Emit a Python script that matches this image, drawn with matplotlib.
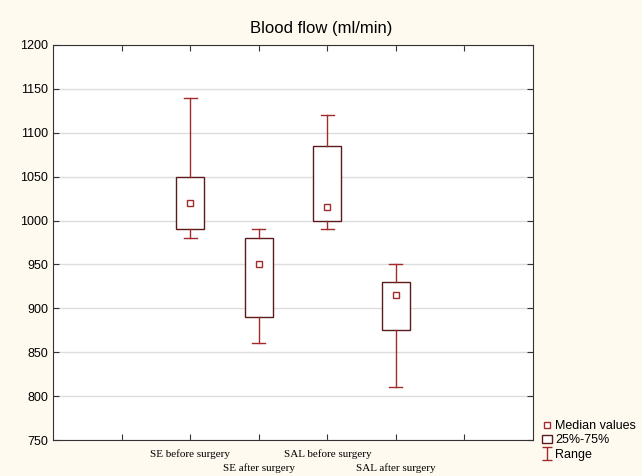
import numpy as np
import matplotlib.pyplot as plt
from matplotlib.patches import Patch
from matplotlib.lines import Line2D

# Blood flow box plot (min / 25% / median / 75% / max)
groups = ["SE before surgery", "SE after surgery", "SAL before surgery", "SAL after surgery"]
mins = [980, 860, 990, 810]
q1s = [990, 890, 1000, 875]
medians = [1020, 950, 1015, 915]
q3s = [1050, 980, 1085, 930]
maxs = [1140, 990, 1120, 950]

box_col = "#5c1a1a"
range_col = "#a32a2a"

fig = plt.figure(figsize=(6.42, 4.76), dpi=100, facecolor="#fffaf0")
ax = fig.add_axes([0.083, 0.0756, 0.747, 0.83])
ax.set_facecolor("white")

pos = np.arange(2, 2 + len(groups))
stats = []
for g, lo, a, m, b, hi in zip(groups, mins, q1s, medians, q3s, maxs):
    stats.append(dict(label=g, whislo=lo, q1=a, med=m, q3=b, whishi=hi, fliers=[]))

ax.bxp(stats, positions=pos, widths=0.41, showfliers=False, patch_artist=True,
       boxprops=dict(facecolor="white", edgecolor=box_col, linewidth=1.0),
       whiskerprops=dict(color=range_col, linewidth=1.0),
       capprops=dict(color=range_col, linewidth=1.0),
       medianprops=dict(visible=False), capwidths=0.19, zorder=3)
ax.plot(pos, medians, ls="none", marker="s", ms=4, mfc="white", mec=range_col, mew=1.0, zorder=4)

ax.set_xlim(0, 7)
ax.set_ylim(750, 1200)
ax.set_yticks(np.arange(750, 1201, 50))
ax.set_xticks(np.arange(1, 7))
ax.set_xticklabels([])
ax.grid(axis="y", color="#dddddd", linewidth=1)
ax.set_axisbelow(True)
ax.tick_params(axis="x", direction="in", top=True, length=4, color="#333333")
ax.tick_params(axis="y", direction="in", right=True, length=4, labelsize=9, color="#333333")
for lab in ax.get_yticklabels():
    lab.set_family("Liberation Sans")
for s in ax.spines.values():
    s.set_color("#333333")

# staggered category labels
for i, (p, g) in enumerate(zip(pos, groups)):
    y = -0.036 if i % 2 == 0 else -0.071
    ax.text(p, y, g, transform=ax.get_xaxis_transform(), ha="center", va="center",
            fontsize=8, family="Liberation Serif")

fig.text(0.5, 0.941, "Blood flow (ml/min)", ha="center", va="center",
         fontsize=12, family="Liberation Sans")

eb = ax.errorbar([np.nan], [np.nan], yerr=[1], fmt="none", ecolor=range_col, capsize=3.5, elinewidth=1)
handles = [
    Line2D([], [], ls="none", marker="s", ms=4, mfc="white", mec=range_col, mew=1.0),
    Patch(facecolor="white", edgecolor=box_col),
    eb,
]
leg = fig.legend(handles, ["Median values", "25%-75%", "Range"], loc="lower left",
                 bbox_to_anchor=(0.826, 0.008), frameon=False, handlelength=0.8,
                 handletextpad=0.3, labelspacing=0.2,
                 prop=dict(family="Liberation Sans", size=9))

fig.savefig("out.png", dpi=100, facecolor=fig.get_facecolor())
